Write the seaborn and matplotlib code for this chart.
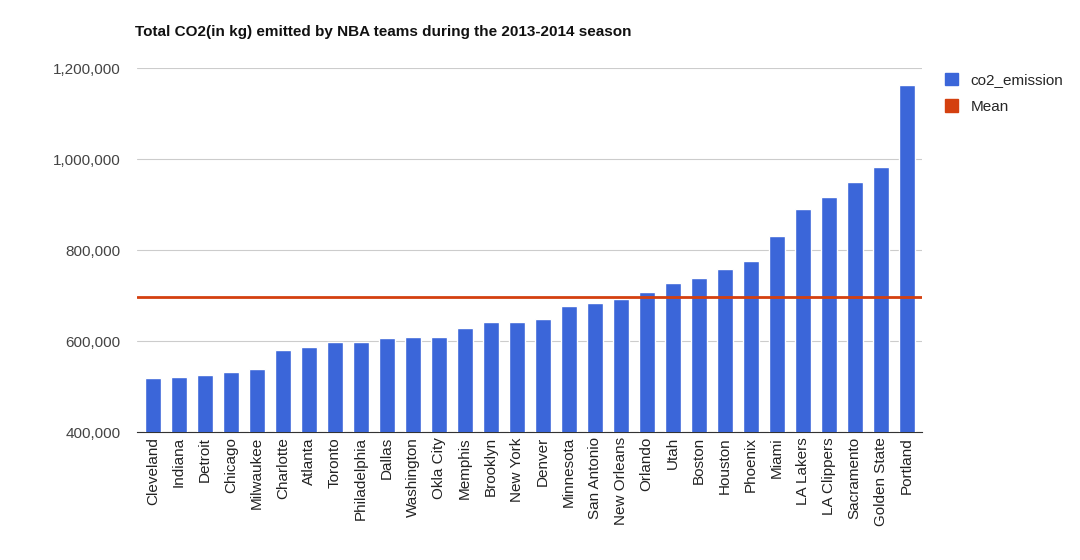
import matplotlib
matplotlib.use("Agg")
import matplotlib.pyplot as plt
import seaborn as sns
import pandas as pd
from matplotlib.patches import Patch
from matplotlib.ticker import FuncFormatter

teams = ["Cleveland", "Indiana", "Detroit", "Chicago", "Milwaukee", "Charlotte", "Atlanta",
         "Toronto", "Philadelphia", "Dallas", "Washington", "Okla City", "Memphis", "Brooklyn",
         "New York", "Denver", "Minnesota", "San Antonio", "New Orleans", "Orlando", "Utah",
         "Boston", "Houston", "Phoenix", "Miami", "LA Lakers", "LA Clippers", "Sacramento",
         "Golden State", "Portland"]
co2_emission = [519000, 521000, 526000, 532000, 539000, 581000, 587000, 598000, 598000, 607000,
                609000, 609000, 629000, 642000, 642000, 649000, 678000, 684000, 693000, 709000,
                728000, 739000, 759000, 777000, 832000, 891000, 918000, 951000, 984000, 1163000]
mean_value = 697000

df = pd.DataFrame({"team": teams, "co2_emission": co2_emission})

sns.set_style("white")
plt.rcParams["font.family"] = ["Liberation Sans", "DejaVu Sans"]

fig = plt.figure(figsize=(10.8, 5.6), dpi=100)
ax = fig.add_axes([0.127, 0.228, 0.727, 0.65])

bar_color = "#3b66d9"
mean_color = "#d4400f"
sns.barplot(data=df, x="team", y="co2_emission", color=bar_color, width=0.6,
            saturation=1, ax=ax, zorder=3)
ax.axhline(mean_value, color=mean_color, lw=2, zorder=4)

ax.set_ylim(400000, 1200000)
ax.set_xlim(-0.6, len(teams) - 0.4)
ax.set_yticks(range(400000, 1200001, 200000))
ax.yaxis.set_major_formatter(FuncFormatter(lambda v, p: f"{int(v):,}"))
ax.grid(axis="y", color="#cccccc", lw=0.8, zorder=0)
ax.set_xlabel("")
ax.set_ylabel("")
for s in ["top", "right", "left"]:
    ax.spines[s].set_visible(False)
ax.spines["bottom"].set_color("#333333")
ax.tick_params(axis="x", rotation=90, labelsize=11, colors="#222222", length=0)
ax.tick_params(axis="y", labelsize=11, colors="#444444", length=0, pad=12)

fig.text(0.125, 0.935, "Total CO2(in kg) emitted by NBA teams during the 2013-2014 season",
         fontsize=11, fontweight="bold", color="#111111")

handles = [Patch(color=bar_color, label="co2_emission"), Patch(color=mean_color, label="Mean")]
fig.legend(handles=handles, loc="upper left", bbox_to_anchor=(0.862, 0.895), frameon=False,
           fontsize=11, handlelength=0.9, handleheight=0.9, labelspacing=0.8)

fig.savefig("out.png", dpi=100)
